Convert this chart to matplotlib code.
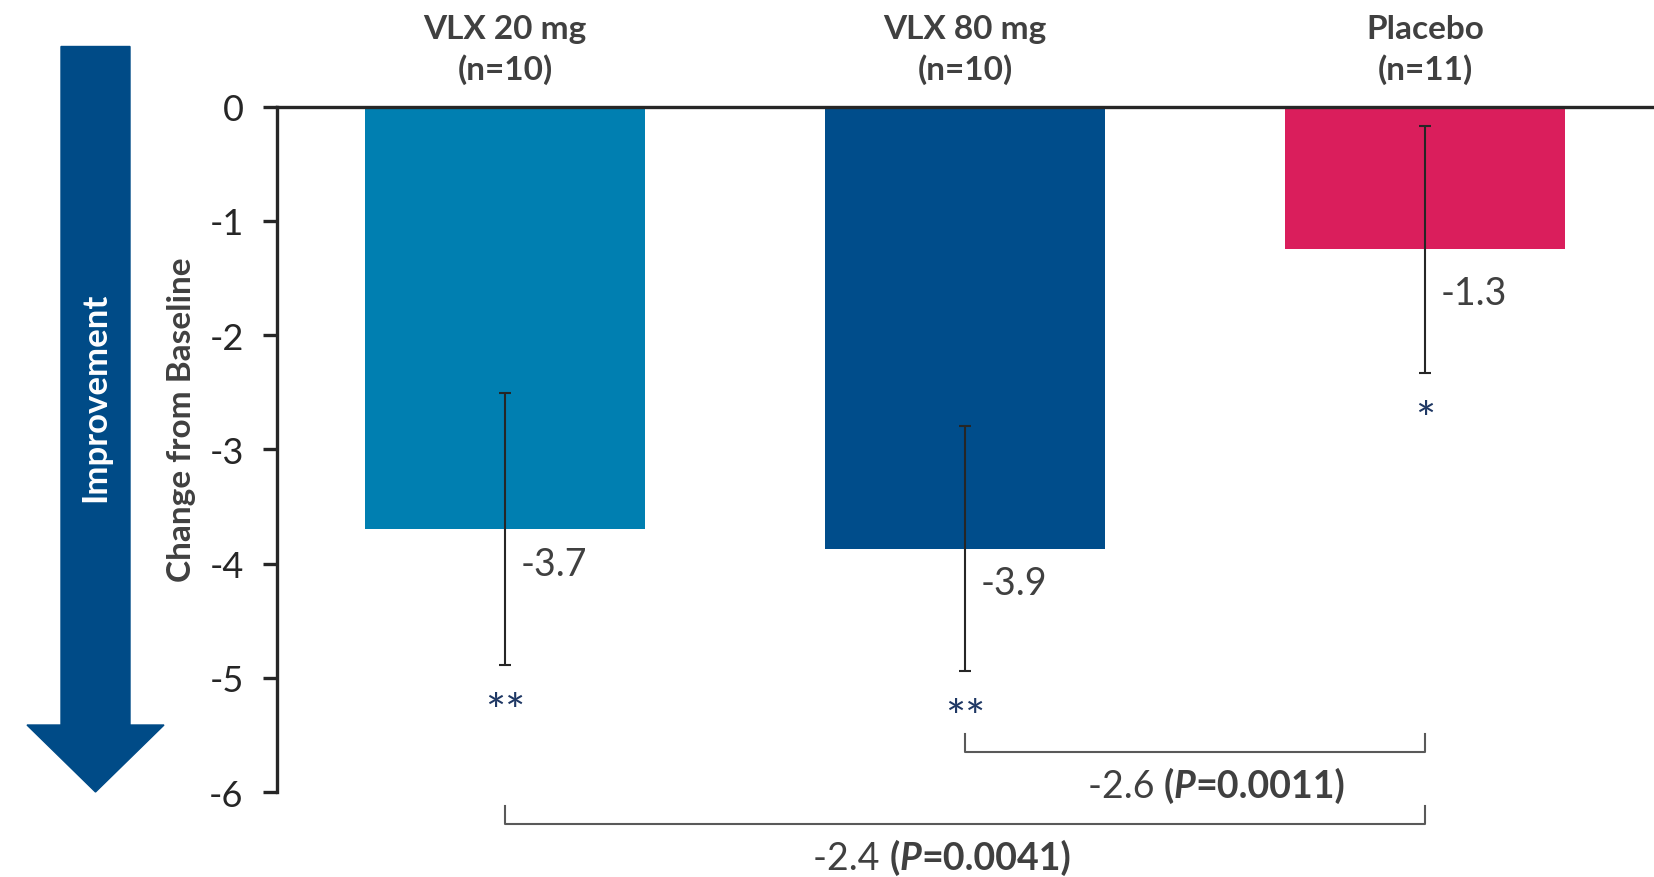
import matplotlib
matplotlib.use("Agg")
import matplotlib.pyplot as plt
from matplotlib.patches import FancyArrow
from matplotlib.offsetbox import TextArea, HPacker, AnnotationBbox

# ---------------------------
# Data
# ---------------------------
groups = ["VLX 20 mg\n(n=10)", "VLX 80 mg\n(n=10)", "Placebo\n(n=11)"]
change = [-3.70, -3.87, -1.25]
value_labels = ["-3.7", "-3.9", "-1.3"]
errors = [1.19, 1.07, 1.08]
stars = ["**", "**", "*"]
bar_colors = ["#007FB1", "#004D8B", "#DA1E5C"]

# pairwise comparisons: (group a, group b, difference, p-value)
comparisons = [(1, 2, "-2.6", "0.0011"), (0, 2, "-2.4", "0.0041")]

yticks = [0, -1, -2, -3, -4, -5, -6]

plt.rcParams['font.family'] = ['Lato', 'DejaVu Sans']
dark = "#262626"
grey = "#404040"

# ---------------------------
# Figure
# ---------------------------
fig = plt.figure(figsize=(16.54, 8.78), dpi=100)
ax = fig.add_axes([0.1675, 0.0968, 0.8325, 0.7807])

x = list(range(len(groups)))
ax.bar(x, change, width=0.608, color=bar_colors, zorder=1)
ax.errorbar(x, change, yerr=errors, fmt="none", ecolor=dark,
            elinewidth=1.5, capsize=4.5, capthick=1.5, zorder=3)

ax.set_xlim(-0.496, 2.497)
ax.set_ylim(-6, 0)
ax.set_yticks(yticks)
ax.set_yticklabels([str(t) for t in yticks])
ax.set_xticks([])

for side in ["right", "bottom"]:
    ax.spines[side].set_visible(False)
for side in ["left", "top"]:
    ax.spines[side].set_linewidth(2.4)
    ax.spines[side].set_color(dark)
ax.spines["top"].set_zorder(4)
ax.tick_params(axis="y", direction="out", length=10, width=2.4, color=dark,
               labelsize=26, labelcolor=dark, pad=14)

# group headers, value labels, stars
label_drop = [0.3, 0.3, 0.38]
for i in x:
    ax.text(i, 0.5, groups[i], ha="center", va="center", fontsize=24,
            fontweight="bold", color=grey, linespacing=1.4, clip_on=False)
    ax.text(i + 0.033, change[i] - label_drop[i], value_labels[i], ha="left",
            va="center", fontsize=27, color=grey)
    ax.text(i, change[i] - errors[i] - 0.42, stars[i], ha="center", va="center",
            fontsize=34, color="#1F3864")

# comparison brackets
label_shift = [0.046, -0.05]
for k, (a, b, diff, p) in enumerate(comparisons):
    ybar = -5.65 - 0.63 * k
    ax.plot([a, a, b, b], [ybar + 0.16, ybar, ybar, ybar + 0.16],
            color="#595959", lw=1.5, clip_on=False)
    parts = [
        TextArea(diff + " ", textprops=dict(fontsize=27, color=grey)),
        TextArea("(", textprops=dict(fontsize=27, color=grey, fontweight="bold")),
        TextArea("P", textprops=dict(fontsize=27, color=grey, fontweight="bold",
                                     fontstyle="italic")),
        TextArea("=" + p + ")", textprops=dict(fontsize=27, color=grey,
                                               fontweight="bold")),
    ]
    box = HPacker(children=parts, align="baseline", pad=0, sep=0)
    ab = AnnotationBbox(box, ((a + b) / 2 + label_shift[k], ybar - 0.29),
                        xycoords="data", frameon=False, box_alignment=(0.5, 0.5),
                        annotation_clip=False)
    ax.add_artist(ab)

# y label
ax.text(-0.0697, 0.544, "Change from Baseline", transform=ax.transAxes,
        rotation=90, ha="center", va="center", fontsize=24,
        fontweight="bold", color=grey)

# improvement arrow (inches)
arrow = FancyArrow(0.955, 8.305, 0, -7.455, width=0.69, head_width=1.37,
                   head_length=0.67, length_includes_head=True,
                   color="#004B87", transform=fig.dpi_scale_trans)
fig.add_artist(arrow)
fig.text(0.0577, 0.547, "Improvement", rotation=90, ha="center", va="center",
         fontsize=25, fontweight="bold", color="white")

fig.savefig("out.png", dpi=100)
